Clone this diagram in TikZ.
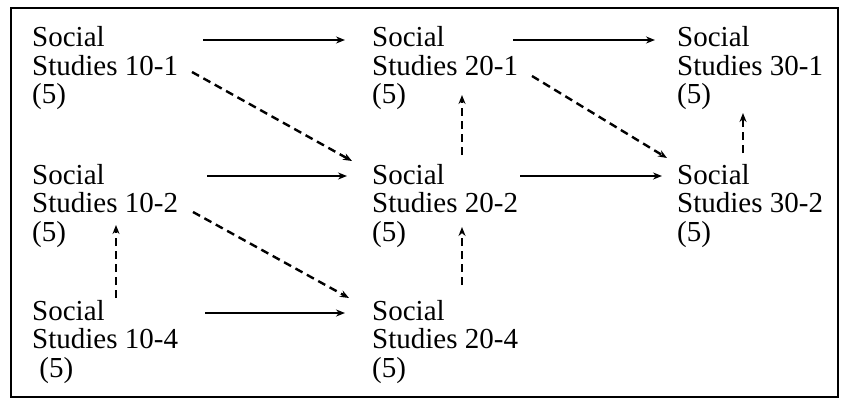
\documentclass[tikz,border=0pt]{standalone}
\usepackage{fontspec}
\setmainfont{Liberation Serif}
\usetikzlibrary{arrows.meta}
\begin{document}
\begin{tikzpicture}[x=1pt,y=-1pt,
  course/.style={anchor=base west, inner sep=0pt, align=left, font=\fontsize{29}{28.5}\selectfont},
  solidarrow/.style={line width=2.2pt, -{Stealth[length=9pt,width=7pt]}},
  dasharrow/.style={line width=2.4pt, dash pattern=on 8pt off 5pt, -{Stealth[length=9pt,width=7pt]}},
]
\useasboundingbox (0,0) rectangle (861,409);
\draw[line width=1.6pt] (11,8) rectangle (838,397);
% course nodes (anchored at the baseline of their last line)
\node[course] (c101) at (32,104) {Social\\Studies 10-1\\(5)};
\node[course] (c102) at (32,241) {Social\\Studies 10-2\\(5)};
\node[course] (c104) at (32,377) {Social\\Studies 10-4\\\ (5)};
\node[course] (c201) at (372,104) {Social\\Studies 20-1\\(5)};
\node[course] (c202) at (372,241) {Social\\Studies 20-2\\(5)};
\node[course] (c204) at (372,377) {Social\\Studies 20-4\\(5)};
\node[course] (c301) at (677,104) {Social\\Studies 30-1\\(5)};
\node[course] (c302) at (677,241) {Social\\Studies 30-2\\(5)};
% connector end points
\coordinate (s1a) at (203,40);  \coordinate (s1b) at (345,40);
\coordinate (s2a) at (513,40);  \coordinate (s2b) at (655,40);
\coordinate (s3a) at (207,176); \coordinate (s3b) at (347,176);
\coordinate (s4a) at (520,176); \coordinate (s4b) at (662,176);
\coordinate (s5a) at (205,313); \coordinate (s5b) at (345,313);
\coordinate (d1a) at (192,72);  \coordinate (d1b) at (352,161);
\coordinate (d2a) at (193,212); \coordinate (d2b) at (349,298);
\coordinate (d3a) at (532,76);  \coordinate (d3b) at (667,158);
\coordinate (v1a) at (116,298); \coordinate (v1b) at (116,225);
\coordinate (v2a) at (462,285); \coordinate (v2b) at (462,227);
\coordinate (v3a) at (462,155); \coordinate (v3b) at (462,95);
\coordinate (v4a) at (743,153); \coordinate (v4b) at (743,113);
% solid connectors
\draw[solidarrow] (s1a) -- (s1b);
\draw[solidarrow] (s2a) -- (s2b);
\draw[solidarrow] (s3a) -- (s3b);
\draw[solidarrow] (s4a) -- (s4b);
\draw[solidarrow] (s5a) -- (s5b);
% dashed connectors
\draw[dasharrow] (d1a) -- (d1b);
\draw[dasharrow] (d2a) -- (d2b);
\draw[dasharrow] (d3a) -- (d3b);
\draw[dasharrow] (v1a) -- (v1b);
\draw[dasharrow] (v2a) -- (v2b);
\draw[dasharrow] (v3a) -- (v3b);
\draw[dasharrow] (v4a) -- (v4b);
\end{tikzpicture}
\end{document}
